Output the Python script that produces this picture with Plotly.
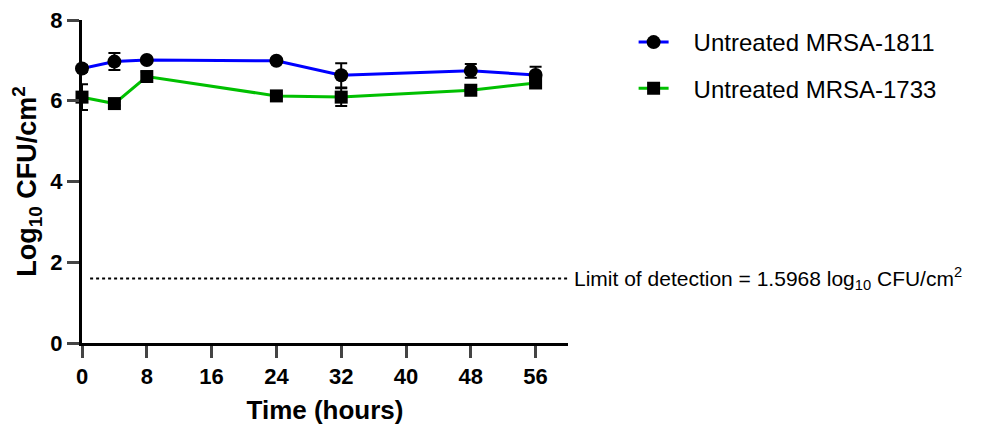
import plotly.graph_objects as go

time_h = [0, 4, 8, 24, 32, 48, 56]
mrsa1811 = [6.80, 6.97, 7.01, 6.99, 6.63, 6.74, 6.64]
mrsa1811_err = [0.08, 0.21, 0.05, 0.05, 0.30, 0.17, 0.20]
mrsa1733 = [6.09, 5.93, 6.60, 6.12, 6.09, 6.26, 6.44]
mrsa1733_err = [0.32, 0.05, 0.12, 0.05, 0.22, 0.05, 0.05]
lod = 1.5968
x_ticks = [0, 8, 16, 24, 32, 40, 48, 56]
y_ticks = [0, 2, 4, 6, 8]

font = "Liberation Sans, Arial, sans-serif"
pad = "\u00a0\u00a0\u00a0"

fig = go.Figure()
fig.add_trace(go.Scatter(
    x=[1, 60], y=[lod, lod], mode="lines",
    line=dict(color="black", width=2, dash="dot"), showlegend=False, hoverinfo="skip"))
fig.add_trace(go.Scatter(
    x=time_h, y=mrsa1811, name=pad + "Untreated MRSA-1811", mode="lines+markers",
    legendgroup="a",
    line=dict(color="#0000ff", width=3),
    marker=dict(symbol="circle", size=14, color="black"),
    error_y=dict(type="data", array=mrsa1811_err, color="black", thickness=2, width=6),
    cliponaxis=False))
fig.add_trace(go.Scatter(
    x=time_h, y=mrsa1733, name=pad + "Untreated MRSA-1733", mode="lines+markers",
    legendgroup="b",
    line=dict(color="#00c000", width=3),
    marker=dict(symbol="square", size=13, color="black"),
    error_y=dict(type="data", array=mrsa1733_err, color="black", thickness=2, width=6),
    cliponaxis=False))

fig.add_annotation(x=1.0, xref="paper", y=lod, yref="y", xanchor="left", yanchor="middle",
                   xshift=4,
                   text="Limit of detection = 1.5968 log<sub>10</sub> CFU/cm<sup>2</sup>",
                   showarrow=False, font=dict(family=font, size=21, color="black"))

fig.update_layout(
    width=987, height=417,
    margin=dict(l=74, r=427, t=12, b=82, autoexpand=False),
    plot_bgcolor="white", paper_bgcolor="white",
    font=dict(family=font, color="black"),
    legend=dict(x=1.135, y=1.0, xanchor="left", yanchor="top",
                font=dict(family=font, size=24, color="black"),
                tracegroupgap=12, itemwidth=30),
    xaxis=dict(range=[0, 60], tickvals=x_ticks, ticks="outside", ticklen=12, tickwidth=3,
               showline=True, linewidth=3, linecolor="black", showgrid=False, zeroline=False,
               automargin=False, ticklabeloverflow="allow",
               tickfont=dict(family=font, size=22, weight="bold"),
               title=dict(text="<b>Time (hours)</b>", font=dict(family=font, size=26), standoff=16)),
    yaxis=dict(range=[0, 8], tickvals=y_ticks, ticks="outside", ticklen=12, tickwidth=3,
               showline=True, linewidth=3, linecolor="black", showgrid=False, zeroline=False,
               automargin=False, ticklabeloverflow="allow",
               tickfont=dict(family=font, size=22, weight="bold"),
               title=dict(text="<b>Log<sub>10</sub> CFU/cm<sup>2</sup></b>", font=dict(family=font, size=27), standoff=6)),
)
fig.write_html("out.html")
